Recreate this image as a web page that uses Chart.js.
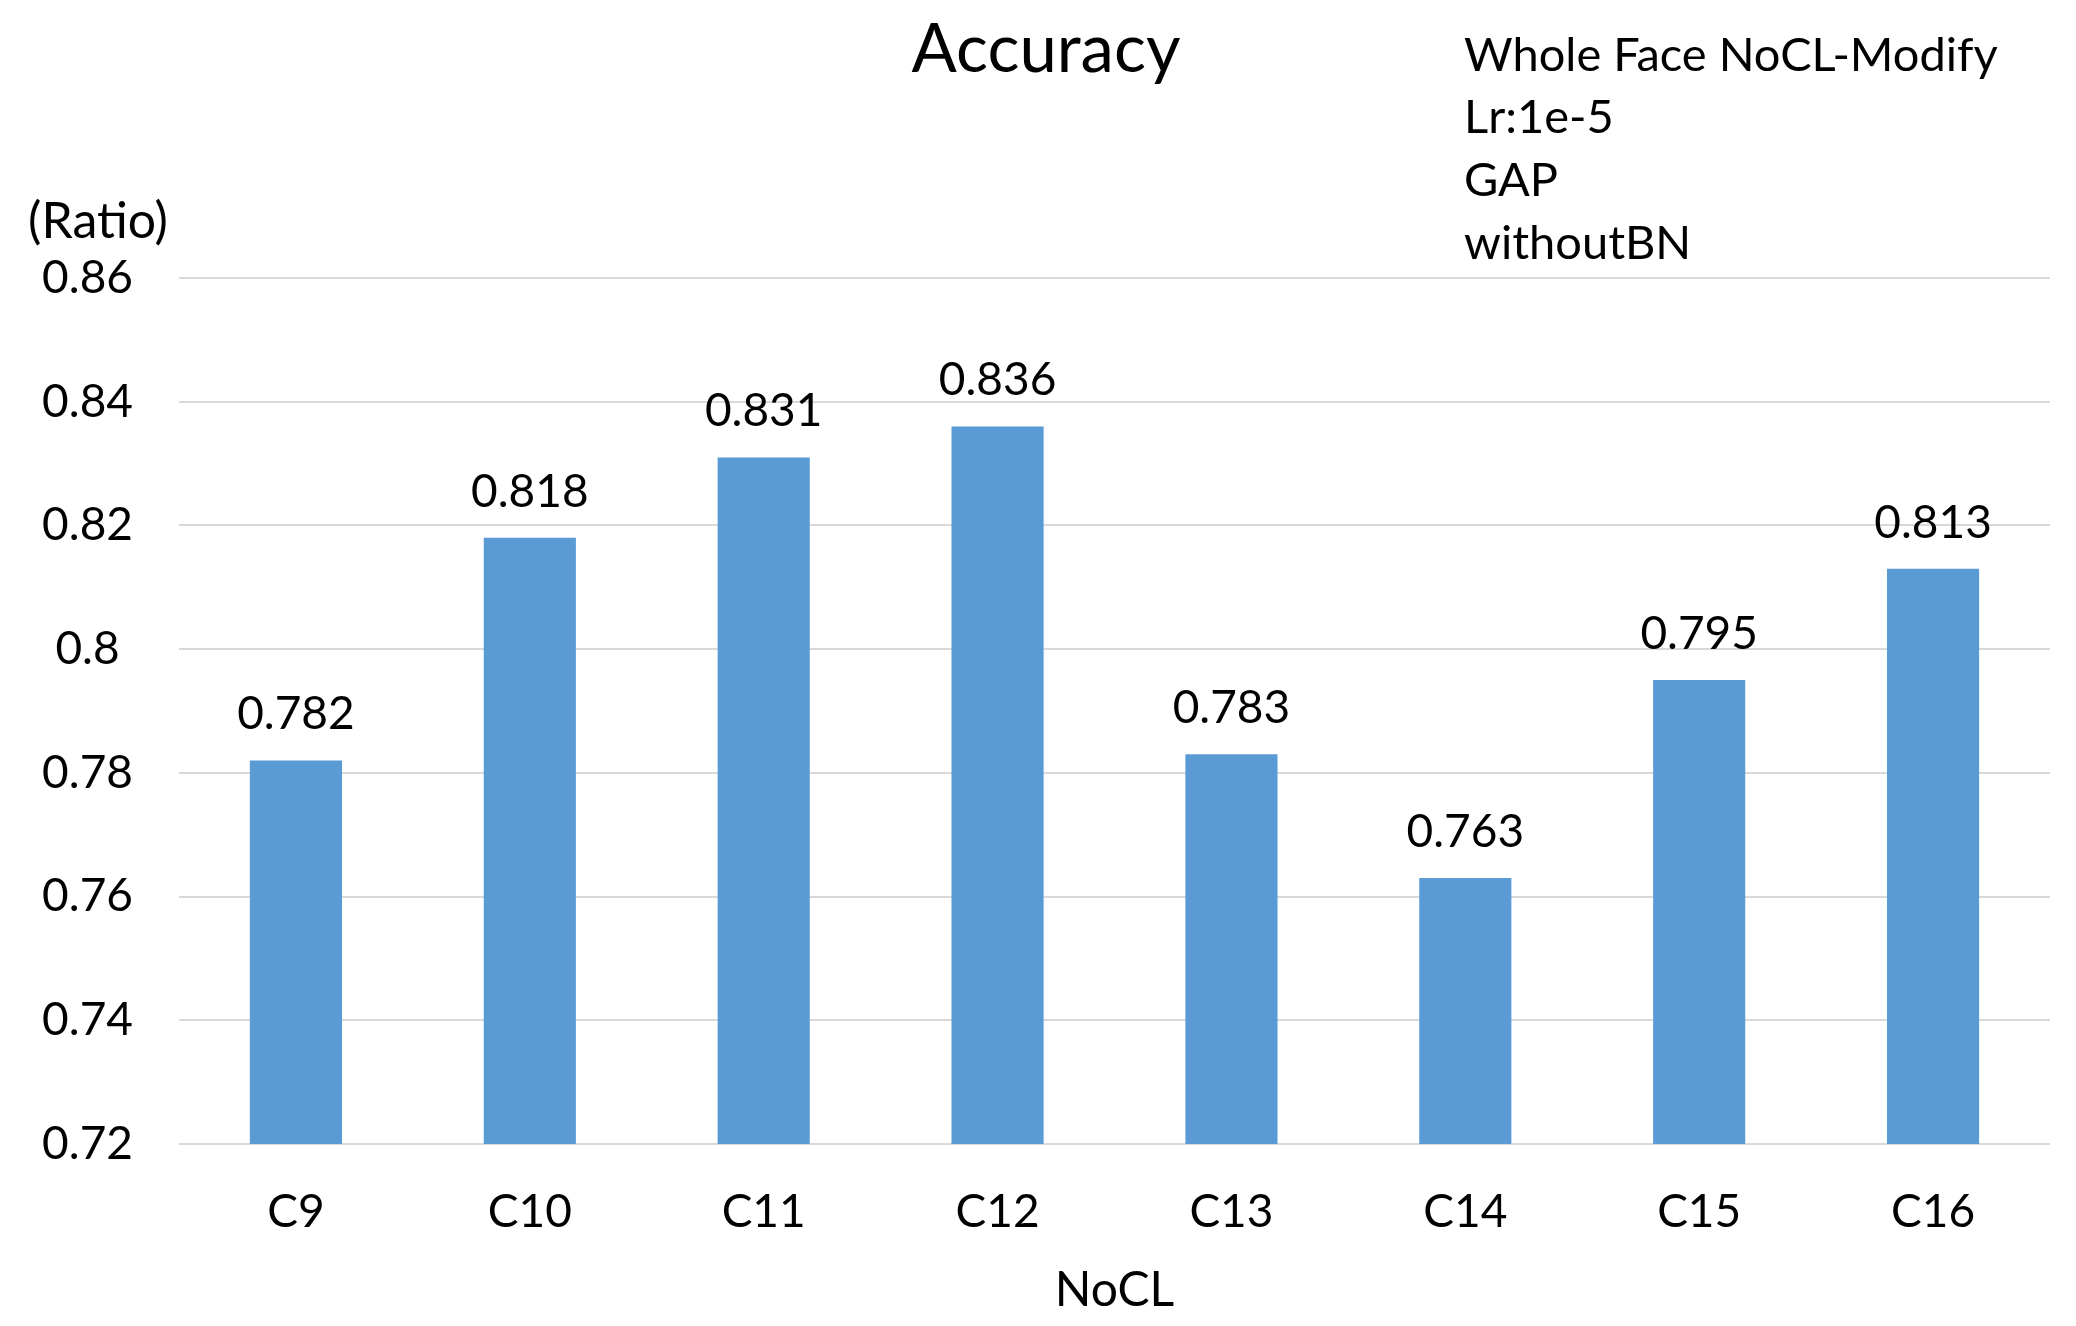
<!DOCTYPE html>
<html>
<head>
<meta charset="utf-8">
<script src="https://cdn.jsdelivr.net/npm/chart.js@4"></script>
<style>
  html, body { margin: 0; padding: 0; background: #ffffff; }
  #wrap { width: 2076px; height: 1326px; }
</style>
</head>
<body>
<div id="wrap"><canvas id="c" width="2076" height="1326"></canvas></div>
<script>
const categories = ['C9', 'C10', 'C11', 'C12', 'C13', 'C14', 'C15', 'C16'];
const accuracy = [0.782, 0.818, 0.831, 0.836, 0.783, 0.763, 0.795, 0.813];
const yMin = 0.72, yMax = 0.86, yStep = 0.02;
const chartTitle = 'Accuracy';
const noteLines = ['Whole Face NoCL-Modify', 'Lr:1e-5', 'GAP', 'withoutBN'];
const yUnit = '(Ratio)';
const xTitle = 'NoCL';

const FONT = 'Lato, "Open Sans", sans-serif';
const TXT = '#000000';

const textPlugin = {
  id: 'texts',
  afterDraw(chart) {
    const ctx = chart.ctx;
    ctx.save();
    ctx.fillStyle = TXT;
    ctx.textBaseline = 'alphabetic';
    // data labels
    ctx.font = '46px ' + FONT;
    ctx.textAlign = 'center';
    const meta = chart.getDatasetMeta(0);
    meta.data.forEach((bar, i) => {
      ctx.fillText(accuracy[i].toFixed(3), bar.x, bar.y - 31);
    });
    // title
    ctx.font = '67px ' + FONT;
    ctx.fillText(chartTitle, 1046, 72);
    // unit
    ctx.font = '50px ' + FONT;
    ctx.fillText(yUnit, 98, 238);
    // x title
    ctx.font = '48px ' + FONT;
    ctx.fillText(xTitle, (chart.chartArea.left + chart.chartArea.right) / 2, 1306);
    // notes
    ctx.font = '47px ' + FONT;
    ctx.textAlign = 'left';
    const baselines = [71, 133, 196, 259];
    noteLines.forEach((t, i) => ctx.fillText(t, 1464, baselines[i]));
    ctx.restore();
  }
};

new Chart(document.getElementById('c'), {
  type: 'bar',
  data: {
    labels: categories,
    datasets: [{
      data: accuracy,
      backgroundColor: '#5b9bd5',
      borderWidth: 0,
      categoryPercentage: 1,
      barPercentage: 0.394
    }]
  },
  options: {
    responsive: false,
    animation: false,
    events: [],
    layout: { padding: { top: 278, right: 26, left: 0, bottom: 0 } },
    plugins: { legend: { display: false }, title: { display: false }, tooltip: { enabled: false } },
    scales: {
      x: {
        grid: { display: false, drawTicks: false },
        border: { display: false },
        ticks: { color: TXT, font: { family: FONT, size: 46 }, padding: 41, maxRotation: 0 },
        afterFit(s) { s.height = 182; }
      },
      y: {
        min: yMin, max: yMax,
        grid: { color: '#d9d9d9', lineWidth: 2, drawTicks: false },
        border: { display: false },
        ticks: {
          stepSize: yStep, color: TXT, font: { family: FONT, size: 46 },
          padding: 46, crossAlign: 'center',
          callback: v => String(parseFloat(Number(v).toFixed(2)))
        },
        afterFit(s) { s.width = 179; }
      }
    }
  },
  plugins: [textPlugin]
});
</script>
</body>
</html>
